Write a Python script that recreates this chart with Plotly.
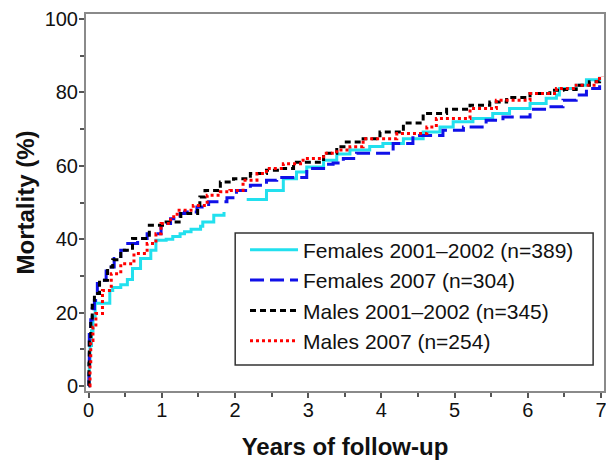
import plotly.graph_objects as go

# Females 2001-2002 (n=389) - None marks the gap in the drawn curve
f0102_x = [0, 0.01, 0.02, 0.04, 0.06, 0.09, 0.29, 0.33, 0.44, 0.53, 0.60, 0.71, 0.85, 0.92, 1.06, 1.15,
           1.25, 1.31, 1.40, 1.53, 1.56, 1.71, 1.85, None, 2.16, 2.43, 2.66, 2.84, 2.98, 3.21, 3.39,
           3.57, 3.84, 4.02, 4.30, 4.57, 4.80, 4.98, 5.25, 5.52, 5.75, 6.03, 6.25, 6.39, 6.43, 6.66,
           6.80, 6.98]
f0102_y = [0, 6, 11, 15, 19, 22.5, 26.0, 26.8, 27.6, 29.0, 32.0, 34.7, 37.0, 39.7, 40.0, 40.7,
           41.5, 42.0, 42.7, 43.5, 44.7, 46.5, 47.4, None, 50.8, 53.3, 56.5, 58.3, 59.7, 61.5, 63.2,
           64.3, 65.3, 66.1, 67.4, 69.2, 70.6, 72.0, 72.9, 74.3, 75.6, 77.0, 78.4, 79.3, 81.1, 82.0,
           83.5, 84.3]

# Females 2007 (n=304)
f07_x = [0, 0.005, 0.01, 0.03, 0.05, 0.08, 0.12, 0.17, 0.24, 0.28, 0.35, 0.44, 0.51, 0.67, 0.80, 0.99,
         1.12, 1.25, 1.31, 1.48, 1.64, 1.89, 2.02, 2.21, 2.43, 2.57, 2.98, 3.25, 3.34, 3.48, 3.66,
         4.16, 4.43, 4.84, 5.12, 5.43, 5.66, 6.03, 6.25, 6.48, 6.66, 6.80, 6.98]
f07_y = [0, 5, 14, 18, 21, 23.3, 27.9, 28.8, 32.0, 32.4, 34.7, 37.0, 38.8, 40.2, 41.5, 44.3,
         45.6, 47.0, 47.4, 48.8, 50.2, 51.3, 53.3, 54.7, 56.1, 56.8, 59.3, 60.4, 60.8, 62.0, 63.4,
         66.1, 68.3, 69.7, 70.6, 72.4, 73.3, 75.4, 76.1, 77.9, 79.3, 81.1, 82.0]

# Males 2001-2002 (n=345)
m0102_x = [0, 0.005, 0.01, 0.03, 0.05, 0.08, 0.15, 0.26, 0.33, 0.44, 0.60, 0.83, 1.01, 1.26, 1.49,
           1.52, 1.59, 1.80, 1.98, 2.21, 2.43, 2.62, 2.80, 3.21, 3.39, 3.52, 3.75, 3.98, 4.30, 4.57,
           4.89, 5.21, 5.48, 5.71, 6.03, 6.30, 6.48, 6.66, 6.84, 6.98]
m0102_y = [0, 6, 13, 18, 22, 25.2, 28.8, 32.4, 34.4, 37.0, 40.2, 43.8, 44.7, 47.0, 49.2,
           51.5, 53.3, 55.6, 56.5, 57.9, 58.8, 59.3, 61.0, 63.4, 65.2, 66.5, 67.4, 69.2, 71.7, 74.3,
           75.4, 76.5, 77.4, 78.6, 79.7, 80.6, 80.8, 82.0, 82.9, 83.0]

# Males 2007 (n=254)
m07_x = [0.01, 0.02, 0.03, 0.06, 0.10, 0.19, 0.31, 0.44, 0.62, 0.80, 0.92, 0.99, 1.12, 1.21, 1.40,
         1.43, 1.62, 1.80, 1.93, 2.11, 2.30, 2.43, 2.66, 2.93, 3.21, 3.39, 3.57, 3.75, 4.21, 4.62,
         4.75, 5.21, 5.57, 6.03, 6.39, 6.66, 6.94, 7.02]
m07_y = [0, 6, 12.4, 16, 19.7, 26.0, 30.6, 33.3, 36.1, 38.8, 41.5, 44.3, 46.1, 47.9, 48.4,
         49.2, 52.0, 52.9, 53.3, 56.1, 57.9, 59.3, 60.6, 62.0, 63.4, 64.3, 65.2, 67.4, 68.8, 70.6,
         72.9, 75.6, 77.9, 79.7, 81.1, 82.0, 83.8, 84.3]

series = [
    ("Females 2001–2002 (n=389)", f0102_x, f0102_y, "#22e0ee", "solid"),
    ("Females 2007 (n=304)", f07_x, f07_y, "#1010e8", "14px,6px"),
    ("Males 2001–2002 (n=345)", m0102_x, m0102_y, "#000000", "6px,4px"),
    ("Males 2007 (n=254)", m07_x, m07_y, "#ff0000", "3px,3px"),
]

fig = go.Figure()
for name, xs, ys, color, dash in series:
    fig.add_trace(go.Scatter(
        x=xs, y=ys, mode="lines", name=name,
        line=dict(color=color, width=3, dash=dash, shape="hv"),
        connectgaps=False,
    ))

font_family = "Liberation Sans, Arial, sans-serif"
axis_common = dict(
    showline=True, linecolor="#8a8a8a", linewidth=2, mirror=True,
    ticks="outside", ticklen=5, tickwidth=1.5, tickcolor="#555555",
    showgrid=False, zeroline=False, automargin=False,
    ticklabeloverflow="allow",
    tickfont=dict(family=font_family, size=20, color="#111111"),
)

fig.update_layout(
    width=606, height=460,
    margin=dict(l=86, r=2, t=14, b=69),
    paper_bgcolor="white", plot_bgcolor="white",
    font=dict(family=font_family, color="#111111"),
    showlegend=True,
    legend=dict(
        x=0.307, y=0.428, xanchor="left", yanchor="top",
        borderwidth=0, bgcolor="rgba(0,0,0,0)",
        font=dict(family=font_family, size=21, color="#111111"),
        tracegroupgap=0, itemwidth=48,
    ),
    shapes=[dict(
        type="rect", xref="paper", yref="paper",
        x0=0.288, x1=0.979, y0=0.069, y1=0.419,
        line=dict(color="#333333", width=1.5), fillcolor="white", layer="below",
    )],
)
fig.update_xaxes(
    range=[-0.035, 7.04], tickvals=[0, 1, 2, 3, 4, 5, 6, 7],
    minor=dict(ticks="outside", ticklen=4, dtick=0.5, tick0=0, tickcolor="#555555"),
    ticklabelstandoff=-5,
    title=dict(text="<b>Years of follow-up</b>", font=dict(family=font_family, size=24), standoff=22),
    **axis_common,
)
fig.update_yaxes(
    range=[-1.4, 101.4], tickvals=[0, 20, 40, 60, 80, 100],
    minor=dict(ticks="outside", ticklen=4, dtick=10, tick0=0, tickcolor="#555555"),
    ticklabelstandoff=-3,
    title=dict(text="<b>Mortality (%)</b>", font=dict(family=font_family, size=24), standoff=3),
    **axis_common,
)

# remove the default page margin so the 606x460 figure fills the window exactly
fig.write_html("out.html", config={"displayModeBar": False},
               post_script="document.body.style.margin='0';")
